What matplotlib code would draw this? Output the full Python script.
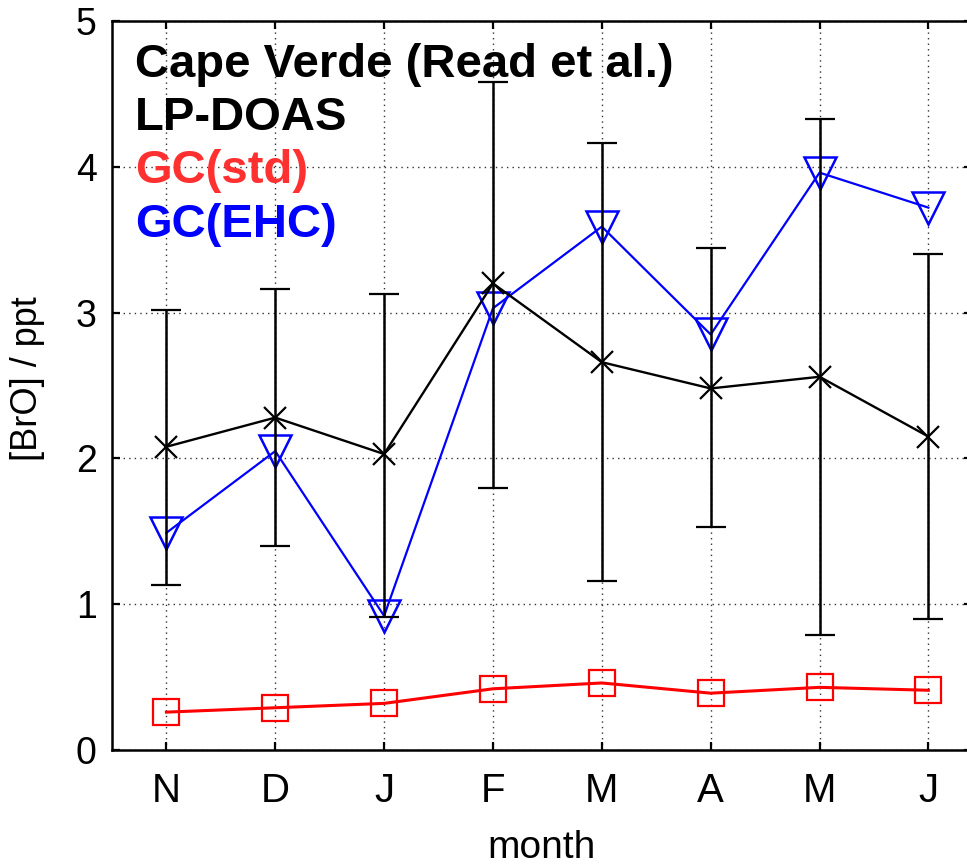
import matplotlib
matplotlib.use("Agg")
import matplotlib.pyplot as plt
import numpy as np

plt.rcParams['font.family'] = ['Liberation Sans', 'DejaVu Sans']

months = ['N', 'D', 'J', 'F', 'M', 'A', 'M', 'J']
lp_doas = [2.08, 2.28, 2.03, 3.20, 2.66, 2.48, 2.56, 2.15]
lp_upper = [3.02, 3.16, 3.13, 4.58, 4.16, 3.44, 4.33, 3.40]
lp_lower = [1.13, 1.40, 0.91, 1.80, 1.16, 1.53, 0.79, 0.90]
gc_std = [0.26, 0.29, 0.32, 0.42, 0.46, 0.39, 0.43, 0.41]
gc_ehc = [1.49, 2.05, 0.92, 3.03, 3.59, 2.85, 3.96, 3.72]

x = np.arange(1, len(months) + 1)
lp = np.array(lp_doas)
yerr = np.vstack([lp - np.array(lp_lower), np.array(lp_upper) - lp])

fig = plt.figure(figsize=(9.67, 8.68), dpi=100)
ax = fig.add_axes([0.1158, 0.1359, 0.8893, 0.8399])

ax.plot(x, gc_std, color='red', lw=2.2, marker='s', ms=19, mfc='none',
        mec='red', mew=1.6, zorder=3)
ax.plot(x, gc_ehc, color='blue', lw=1.6, marker='v', ms=23, mfc='none',
        mec='blue', mew=1.8, zorder=3)
ax.errorbar(x, lp, yerr=yerr, color='black', lw=1.7, marker='x', ms=16,
            mew=1.6, ecolor='black', elinewidth=1.8, capsize=11, capthick=1.8,
            zorder=4)

ax.set_xlim(0.5, 8.4)
ax.set_ylim(0, 5)
ax.set_xticks(x)
ax.set_xticklabels(months)
ax.set_yticks([0, 1, 2, 3, 4, 5])

ax.grid(True, color='#333333', linestyle=(0, (1, 3)), linewidth=1.0)
ax.set_axisbelow(True)

for s in ax.spines.values():
    s.set_linewidth(1.8)

ax.tick_params(axis='both', direction='in', length=6, width=1.6,
               top=True, right=True)
ax.tick_params(axis='x', labelsize=29, pad=16)
ax.tick_params(axis='y', labelsize=27, pad=11)

ax.set_xlabel('month', fontsize=28)
ax.xaxis.set_label_coords(0.5, -0.11)
ax.set_ylabel('[BrO] / ppt', fontsize=26)
ax.yaxis.set_label_coords(-0.078, 0.51)

labels = ['Cape Verde (Read et al.)', 'LP-DOAS', 'GC(std)', 'GC(EHC)']
colors = ['black', 'black', '#ff3030', 'blue']
ys = [0.9113, 0.8502, 0.7892, 0.7270]
for lab, c, yy in zip(labels, colors, ys):
    fig.text(0.1396, yy, lab, color=c, fontsize=34, fontweight='bold',
             va='baseline', ha='left')

fig.savefig('out.png', dpi=100)
